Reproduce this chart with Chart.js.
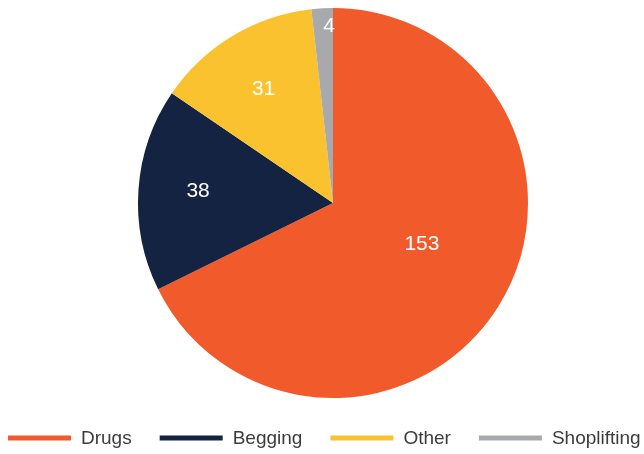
<!DOCTYPE html>
<html>
<head>
<meta charset="utf-8">
<script src="https://cdn.jsdelivr.net/npm/chart.js@4/dist/chart.umd.min.js"></script>
<style>
  html, body { margin: 0; padding: 0; background: #fff; }
  #wrap { width: 644px; height: 454px; }
</style>
</head>
<body>
<div id="wrap"><canvas id="pieChart" width="644" height="454"></canvas></div>
<script>
  // ────────── Data ──────────
  const categories = ['Drugs', 'Begging', 'Other', 'Shoplifting'];
  const counts = [153, 38, 31, 4];
  const colors = ['#F15A2B', '#142341', '#FBC22F', '#A7A9AC'];

  const FONT = '"Liberation Sans", Arial, sans-serif';

  // ────────── Value labels inside slices ──────────
  // radial distance (fraction of radius) and angle nudge (deg) per slice
  const labelFrac = [0.50, 0.695, 0.69, 0.91];
  const labelNudge = [-7.7, 1.5, 0, 1.9];
  const sliceLabels = {
    id: 'slice-labels',
    afterDatasetsDraw(chart) {
      const {ctx} = chart;
      const meta = chart.getDatasetMeta(0);
      ctx.save();
      ctx.font = '21px ' + FONT;
      ctx.fillStyle = '#fff';
      ctx.textAlign = 'center';
      ctx.textBaseline = 'middle';
      meta.data.forEach((arc, i) => {
        const p = arc.getProps(['x', 'y', 'startAngle', 'endAngle', 'outerRadius'], true);
        const mid = (p.startAngle + p.endAngle) / 2 + labelNudge[i] * Math.PI / 180;
        const r = p.outerRadius * labelFrac[i];
        ctx.fillText(String(counts[i]), p.x + Math.cos(mid) * r, p.y + Math.sin(mid) * r + 1);
      });
      ctx.restore();
    }
  };

  // ────────── Line-marker legend along the bottom ──────────
  const lineLegend = {
    id: 'line-legend',
    afterDraw(chart) {
      const {ctx} = chart;
      const y = 438;
      let x = 8;
      ctx.save();
      ctx.font = '19px ' + FONT;
      ctx.textBaseline = 'middle';
      ctx.textAlign = 'left';
      categories.forEach((c, i) => {
        ctx.strokeStyle = colors[i];
        ctx.lineWidth = 5;
        ctx.beginPath();
        ctx.moveTo(x, y);
        ctx.lineTo(x + 63, y);
        ctx.stroke();
        ctx.fillStyle = '#3c3c3c';
        ctx.fillText(c, x + 73, y + 1);
        x += 73 + ctx.measureText(c).width + 28;
      });
      ctx.restore();
    }
  };

  const ctx = document.getElementById('pieChart').getContext('2d');
  new Chart(ctx, {
    type: 'pie',
    data: {
      labels: categories,
      datasets: [{
        data: counts,
        backgroundColor: colors,
        borderWidth: 0
      }]
    },
    options: {
      responsive: false,
      animation: false,
      layout: { padding: { left: 22, top: 8, bottom: 56 } },
      plugins: {
        tooltip: { enabled: false },
        legend: { display: false }
      }
    },
    plugins: [sliceLabels, lineLegend]
  });
</script>
</body>
</html>
